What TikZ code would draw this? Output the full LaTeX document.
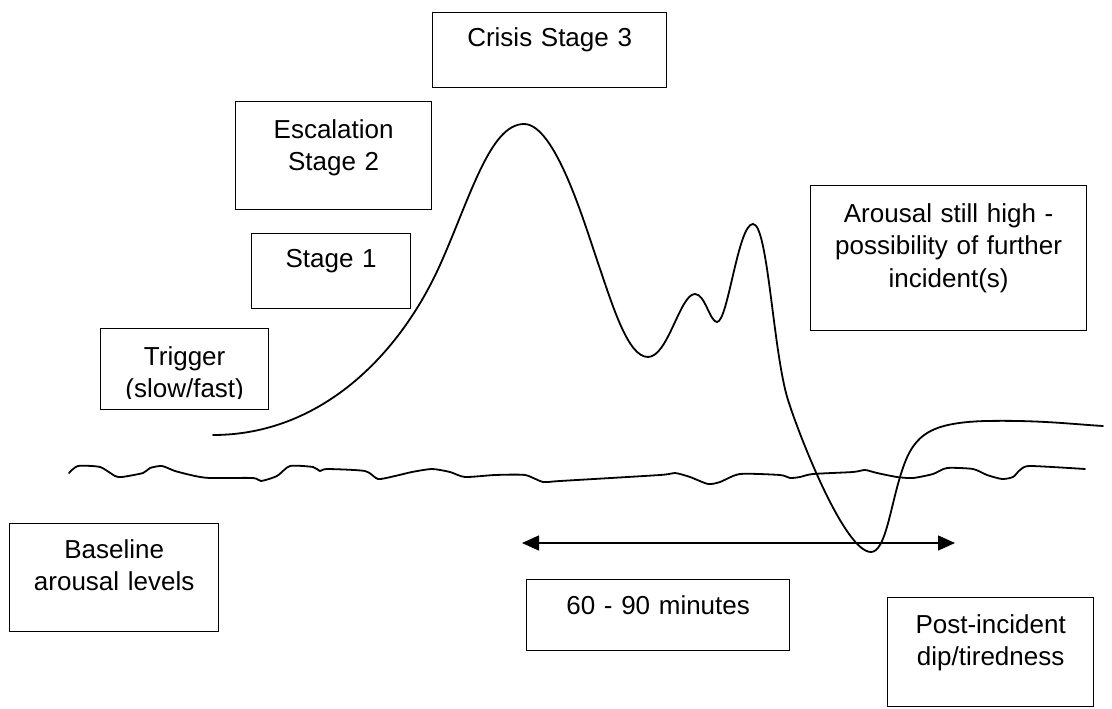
\documentclass[tikz,border=0pt]{standalone}
\usepackage{fontspec}
\setmainfont{Liberation Sans}
\usetikzlibrary{calc,arrows.meta}
\begin{document}
\begin{tikzpicture}[x=1pt,y=-1pt,
  box/.style={draw, line width=1.3pt, inner sep=0pt, anchor=north west},
  lbl/.style={text width=280pt, align=center, inner sep=0pt, anchor=base, font=\fontsize{26}{32.5}\selectfont},
  curve/.style={line width=1.8pt, line join=round, line cap=round},
  dur/.style={line width=1.5pt, {Triangle[length=17pt,width=15pt]}-{Triangle[length=17pt,width=15pt]}}
]
\useasboundingbox (0,0) rectangle (1112,709);
% boxes
\node[box, minimum width=234pt, minimum height=75pt] (crisis) at (432,12) {};
\node[box, minimum width=196pt, minimum height=108pt] (esc) at (235,101) {};
\node[box, minimum width=159pt, minimum height=75pt] (s1) at (251,233) {};
\node[box, minimum width=168pt, minimum height=81pt] (trig) at (100,328) {};
\node[box, minimum width=276pt, minimum height=145pt] (arou) at (810,185) {};
\node[box, minimum width=209pt, minimum height=108pt] (basebox) at (9,523) {};
\node[box, minimum width=263pt, minimum height=71pt] (durbox) at (526,579) {};
\node[box, minimum width=206pt, minimum height=109pt] (post) at (887,597) {};
% labels
\node[lbl] (crisisT) at ($(crisis.north)+(0,35)$) {Crisis Stage 3};
\node[lbl] (escT) at ($(esc.north)+(0,37)$) {Escalation\\Stage 2};
\node[lbl] (s1T) at ($(s1.north)+(0,34)$) {Stage 1};
\begin{scope}
  \clip (trig.north west) rectangle ($(trig.south east)+(0,-12)$);
  \node[lbl] (trigT) at ($(trig.north)+(0,37)$) {Trigger\\(slow/fast)};
\end{scope}
\node[lbl] (arouT) at ($(arou.north)+(0,37)$) {Arousal still high -\\possibility of further\\incident(s)};
\node[lbl] (baseT) at ($(basebox.north)+(0,35)$) {Baseline\\arousal levels};
\node[lbl] (durT) at ($(durbox.north)+(0,35)$) {60 - 90 minutes};
\node[lbl] (postT) at ($(post.north)+(0,36)$) {Post-incident\\dip/tiredness};
% arousal curve
\draw[curve] (213,435) .. controls (320,435) and (399,356) .. (440,265)
 .. controls (470,198) and (490,124) .. (524,124)
 .. controls (555,124) and (584,222) .. (597,260)
 .. controls (613,307) and (628,357) .. (648,357)
 .. controls (668,357) and (680,294) .. (695,294)
 .. controls (705,294) and (710,322) .. (717,322)
 .. controls (728,322) and (738,224) .. (753,224)
 .. controls (768,224) and (773,352) .. (788,400)
 .. controls (800,438) and (845,552) .. (871,552)
 .. controls (885,552) and (890,510) .. (900,477)
 .. controls (912,437) and (925,423) .. (985,421)
 .. controls (1040,420) and (1070,424) .. (1103,426);
% baseline
\draw[curve] plot[smooth, tension=0.4] coordinates {
 (69,473) (78,466) (100,467) (115,476) (122,477) (143,473) (150,468) (162,466)
 (175,471) (195,476) (210,478) (253,478) (261,481) (277,476) (290,466) (313,467)
 (320,471) (327,469) (365,471) (378,479) (395,476) (412,472) (432,469) (450,472)
 (465,477) (495,475) (525,475) (543,482) (560,481) (660,475) (675,473) (690,477)
 (708,484) (720,482) (740,474) (780,475) (790,478) (800,477) (813,474) (853,472)
 (865,470) (877,473) (897,477) (913,478) (933,474) (947,468) (973,469) (987,475)
 (1002,479) (1013,477) (1020,470) (1030,466) (1085,469)};
% duration arrow
\coordinate (arL) at (522,543);
\coordinate (arR) at (955,543);
\draw[dur] (arL) -- (arR);
\end{tikzpicture}
\end{document}
